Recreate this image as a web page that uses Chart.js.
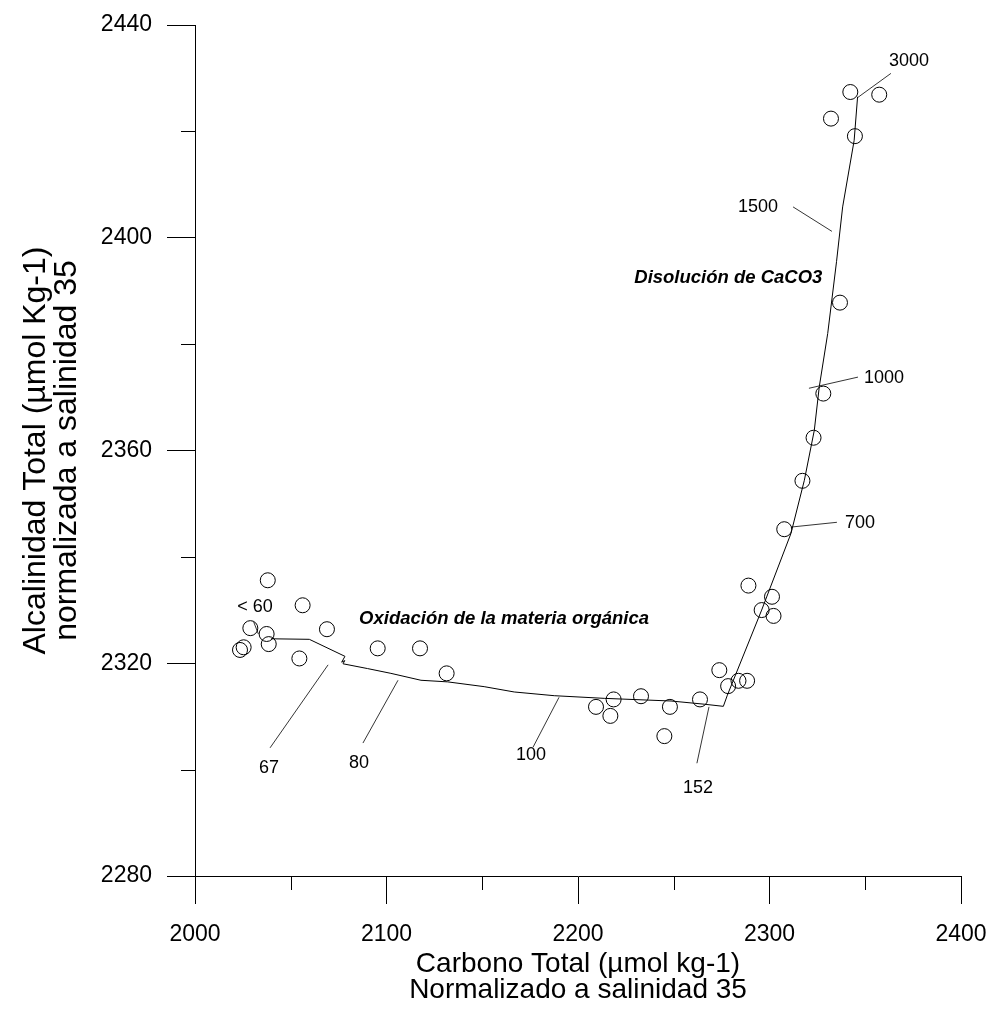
<!DOCTYPE html>
<html>
<head>
<meta charset="utf-8">
<script src="https://cdn.jsdelivr.net/npm/chart.js@4/dist/chart.umd.min.js"></script>
<style>
  html, body { margin: 0; padding: 0; background: #fff; }
  canvas { display: block; }
</style>
</head>
<body>
<canvas id="chart-carbono" width="987" height="1016"></canvas>
<script>
// Observed samples: total carbon vs total alkalinity (both normalised to S = 35)
const carbonoObs = [
  2038.0, 2056.2, 2028.9, 2037.4, 2038.5, 2025.4, 2023.5, 2068.9, 2054.5,
  2095.4, 2117.5, 2131.4, 2209.4, 2218.6, 2216.9, 2232.9, 2248.0, 2245.1,
  2263.7, 2273.8, 2278.4, 2283.8, 2288.3, 2295.9, 2289.0, 2301.3, 2302.1,
  2307.7, 2317.2, 2323.0, 2328.1, 2336.8, 2332.1, 2342.2, 2344.6, 2357.3,
];
const alcalinidadObs = [
  2335.6, 2330.9, 2326.6, 2325.5, 2323.6, 2323.0, 2322.5, 2326.4, 2320.9,
  2322.8, 2322.8, 2318.1, 2311.8, 2313.2, 2310.1, 2313.8, 2311.8, 2306.3,
  2313.2, 2318.7, 2315.7, 2316.7, 2316.7, 2330.0, 2334.6, 2332.5, 2328.9,
  2345.2, 2354.3, 2362.4, 2370.7, 2387.8, 2422.4, 2427.4, 2419.1, 2426.9,
];

// Model curve (organic matter oxidation, then CaCO3 dissolution)
const carbonoModelo = [
  2039.7, 2059.7, 2078.3, 2076.6, 2078.2, 2077.3, 2090.1, 2102.3, 2118.0,
  2131.9, 2151.0, 2166.7, 2187.6, 2213.7, 2248.6, 2266.0, 2275.9, 2278.0,
  2295.9, 2311.2, 2318.2, 2323.4, 2326.0, 2330.4, 2335.0, 2338.2, 2344.2, 2346.0,
];
const alcalinidadModelo = [
  2324.6, 2324.5, 2321.3, 2320.2, 2320.5, 2319.9, 2319.0, 2318.1, 2316.8,
  2316.5, 2315.6, 2314.6, 2313.9, 2313.4, 2312.9, 2312.3, 2311.9, 2314.0,
  2330.0, 2344.4, 2354.4, 2363.8, 2372.0, 2382.0, 2395.5, 2405.8, 2418.3, 2426.5,
];

// Depth labels along the curve (m)
const etiquetasProfundidad = ["< 60", "67", "80", "100", "152", "700", "1000", "1500", "3000"];

const xTicks = [2000, 2100, 2200, 2300, 2400];
const yTicks = [2280, 2320, 2360, 2400, 2440];

const toPoints = (xs, ys) => xs.map((x, i) => ({ x, y: ys[i] }));

// where each depth label sits and where its leader line runs (data units)
const calloutLayout = [
  { text: [2031.3, 2330.6], from: [2030.6, 2327.8], to: [2033.1, 2325.5] },
  { text: [2038.6, 2300.3], from: [2039.2, 2304.1], to: [2069.5, 2319.7] },
  { text: [2085.6, 2301.2], from: [2087.7, 2305.0], to: [2106.0, 2316.8] },
  { text: [2175.5, 2302.7], from: [2176.5, 2304.2], to: [2190.1, 2313.6] },
  { text: [2262.7, 2296.5], from: [2262.1, 2301.2], to: [2268.4, 2311.8] },
  { text: [2347.3, 2346.4], from: [2335.2, 2346.5], to: [2311.2, 2345.6] },
  { text: [2359.8, 2373.6], from: [2346.2, 2373.8], to: [2320.6, 2371.7] },
  { text: [2294.0, 2405.8], from: [2312.3, 2405.8], to: [2332.6, 2401.2] },
  { text: [2372.8, 2433.2], from: [2363.4, 2430.9], to: [2346.2, 2426.4] },
];

const procesos = [
  { label: "Oxidación de la materia orgánica", at: [2161.4, 2328.4] },
  { label: "Disolución de CaCO3", at: [2278.5, 2392.5] },
];

const FONT = "'Liberation Sans', Arial, sans-serif";

const annotations = {
  id: "annotations",
  afterDatasetsDraw(chart) {
    const { ctx, scales } = chart;
    const px = (v) => scales.x.getPixelForValue(v);
    const py = (v) => scales.y.getPixelForValue(v);
    ctx.save();

    // minor ticks halfway between the labelled ones
    ctx.strokeStyle = "#000";
    ctx.lineWidth = 1;
    ctx.beginPath();
    for (let v = 2050; v < 2400; v += 100) {
      const x = Math.round(px(v)) + 0.5;
      ctx.moveTo(x, scales.x.top);
      ctx.lineTo(x, scales.x.top + 14);
    }
    for (let v = 2300; v < 2440; v += 40) {
      const y = Math.round(py(v)) + 0.5;
      ctx.moveTo(scales.y.right, y);
      ctx.lineTo(scales.y.right - 14, y);
    }
    ctx.stroke();

    // leader lines + depth labels
    ctx.lineWidth = 0.8;
    ctx.beginPath();
    calloutLayout.forEach((c) => {
      ctx.moveTo(px(c.from[0]), py(c.from[1]));
      ctx.lineTo(px(c.to[0]), py(c.to[1]));
    });
    ctx.stroke();

    ctx.fillStyle = "#000";
    ctx.textAlign = "center";
    ctx.textBaseline = "middle";
    ctx.font = `18px ${FONT}`;
    calloutLayout.forEach((c, i) => {
      ctx.fillText(etiquetasProfundidad[i], px(c.text[0]), py(c.text[1]));
    });

    ctx.font = `italic bold 18.5px ${FONT}`;
    procesos.forEach((p) => {
      ctx.fillText(p.label, px(p.at[0]), py(p.at[1]));
    });
    ctx.restore();
  },
};

Chart.defaults.font.family = FONT;
Chart.defaults.color = "#000";
Chart.defaults.animation = false;
Chart.defaults.responsive = false;
Chart.defaults.plugins.legend.display = false;
Chart.defaults.plugins.tooltip.enabled = false;

new Chart(document.getElementById("chart-carbono"), {
  type: "scatter",
  data: {
    datasets: [
      {
        data: toPoints(carbonoModelo, alcalinidadModelo),
        showLine: true,
        borderColor: "#000",
        borderWidth: 1,
        pointRadius: 0,
        tension: 0,
      },
      {
        data: toPoints(carbonoObs, alcalinidadObs),
        pointStyle: "circle",
        pointRadius: 7.5,
        pointBorderWidth: 1,
        pointBorderColor: "#000",
        pointBackgroundColor: "rgba(0,0,0,0)",
      },
    ],
  },
  options: {
    maintainAspectRatio: false,
    layout: { padding: { top: 25, right: 26, bottom: 0, left: 0 } },
    scales: {
      x: {
        type: "linear",
        min: 2000,
        max: 2400,
        afterBuildTicks: (s) => { s.ticks = xTicks.map((value) => ({ value })); },
        afterFit: (s) => {
          s.height = 140;
          s.paddingLeft = 0;
          s.paddingRight = 0;
        },
        ticks: { font: { size: 23 }, color: "#000", padding: 17, callback: (v) => String(v) },
        grid: {
          drawOnChartArea: false,
          drawTicks: true,
          tickLength: 28,
          color: "#000",
        },
        border: { display: true, color: "#000", width: 1 },
        title: {
          display: true,
          text: ["Carbono Total (µmol kg-1)", "Normalizado a salinidad 35"],
          font: { size: 28, lineHeight: 0.93 },
          color: "#000",
          padding: { top: 0, bottom: 13 },
        },
      },
      y: {
        type: "linear",
        min: 2280,
        max: 2440,
        afterBuildTicks: (s) => { s.ticks = yTicks.map((value) => ({ value })); },
        afterFit: (s) => {
          s.width = 195;
          s.paddingTop = 0;
          s.paddingBottom = 0;
        },
        ticks: { font: { size: 23 }, color: "#000", padding: 15, callback: (v) => String(v) },
        grid: {
          drawOnChartArea: false,
          drawTicks: true,
          tickLength: 28,
          color: "#000",
        },
        border: { display: true, color: "#000", width: 1 },
        title: {
          display: true,
          text: ["Alcalinidad Total (µmol Kg-1)", "normalizada a salinidad 35"],
          font: { size: 32, lineHeight: 0.97 },
          color: "#000",
          padding: { top: 21, bottom: 0 },
        },
      },
    },
  },
  plugins: [annotations],
});
</script>
</body>
</html>
